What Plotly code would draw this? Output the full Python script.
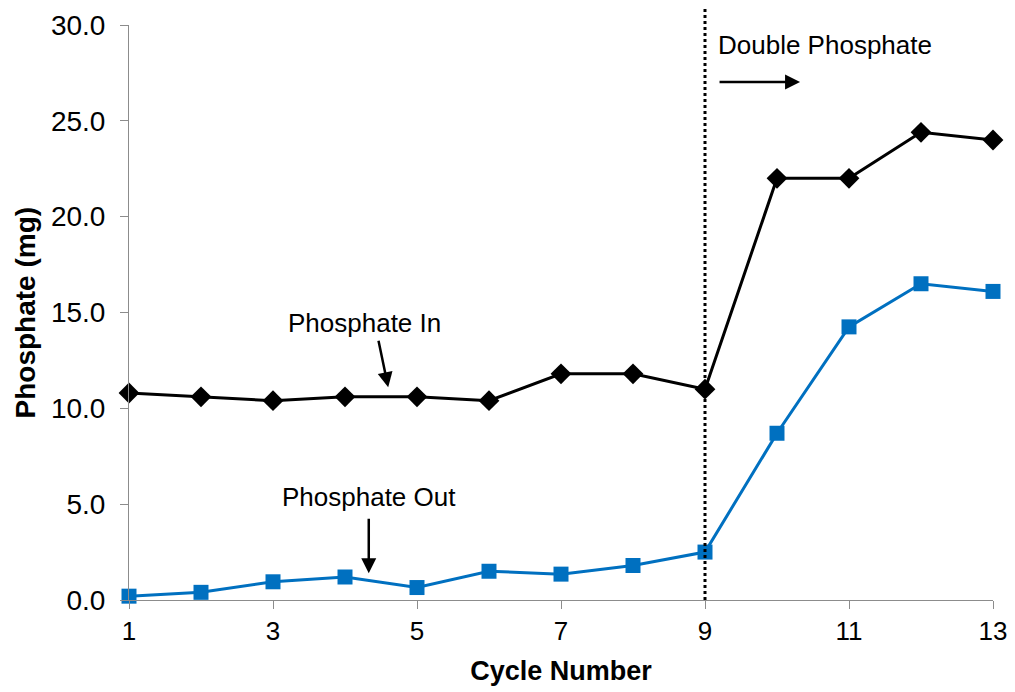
import plotly.graph_objects as go

cycles = list(range(1, 14))
phosphate_in = [10.8, 10.6, 10.4, 10.6, 10.6, 10.4, 11.8, 11.8, 11.0, 22.0, 22.0, 24.4, 24.0]
phosphate_out = [0.2, 0.4, 0.95, 1.2, 0.65, 1.5, 1.35, 1.8, 2.5, 8.7, 14.25, 16.5, 16.1]
x_ticks = [1, 3, 5, 7, 9, 11, 13]
y_ticks = [0, 5, 10, 15, 20, 25, 30]

fig = go.Figure()
fig.add_trace(go.Scatter(x=cycles, y=phosphate_in, mode="lines+markers",
                         line=dict(color="black", width=3),
                         marker=dict(symbol="diamond", size=16, color="black"),
                         cliponaxis=False, name="Phosphate In"))
fig.add_trace(go.Scatter(x=cycles, y=phosphate_out, mode="lines+markers",
                         line=dict(color="#0070C0", width=3),
                         marker=dict(symbol="square", size=15, color="#0070C0"),
                         cliponaxis=False, name="Phosphate Out"))

fig.add_shape(type="line", xref="x", yref="paper", x0=9, x1=9, y0=0, y1=1.03,
              line=dict(color="black", width=3, dash="dot"))

afont = dict(family="Liberation Sans, Arial, sans-serif", size=26, color="black")
fig.add_annotation(x=4.27, y=14.45, text="Phosphate In", showarrow=False, font=afont)
fig.add_annotation(x=4.6, y=11.1, text="", showarrow=True, ax=-10, ay=-48,
                   arrowhead=2, arrowsize=1.2, arrowwidth=2.5, arrowcolor="black")
fig.add_annotation(x=4.33, y=5.37, text="Phosphate Out", showarrow=False, font=afont)
fig.add_annotation(x=4.33, y=1.4, text="", showarrow=True, ax=0, ay=-56,
                   arrowhead=2, arrowsize=1.2, arrowwidth=2.5, arrowcolor="black")
fig.add_annotation(x=10.67, y=28.95, text="Double Phosphate", showarrow=False, font=afont)
fig.add_annotation(x=10.32, y=27.02, text="", showarrow=True, ax=-82, ay=0,
                   arrowhead=2, arrowsize=1.2, arrowwidth=2.5, arrowcolor="black")
# y-axis title
fig.add_annotation(xref="paper", yref="paper", x=0, y=0.5, xshift=-104,
                   xanchor="center", yanchor="middle", showarrow=False,
                   text="<b>Phosphate (mg)</b>", textangle=-90,
                   font=dict(family="Liberation Sans, Arial, sans-serif", size=28, color="black"))

fig.update_layout(
    width=1007, height=684,
    margin=dict(l=121, r=22, t=17, b=92, autoexpand=False),
    plot_bgcolor="white", paper_bgcolor="white",
    showlegend=False,
    font=dict(family="Liberation Sans, Arial, sans-serif", color="black"),
)
fig.update_xaxes(range=[1, 13], tickvals=x_ticks, ticktext=[str(v) for v in x_ticks],
                 automargin=False,
                 showgrid=False, zeroline=False, showline=True, linecolor="#8c8c8c", linewidth=1,
                 ticks="outside", ticklen=8, tickcolor="#8c8c8c",
                 tickfont=dict(size=26),
                 title=dict(text="<b>Cycle Number</b>", font=dict(size=27)))
fig.update_yaxes(range=[0, 30], tickvals=y_ticks, ticktext=[f"{v:.1f}" for v in y_ticks],
                 automargin=False,
                 showgrid=False, zeroline=False, showline=True, linecolor="#8c8c8c", linewidth=1,
                 ticks="outside", ticklen=8, tickcolor="#8c8c8c",
                 ticklabelstandoff=9,
                 tickfont=dict(size=28))

fig.write_html("out.html")
